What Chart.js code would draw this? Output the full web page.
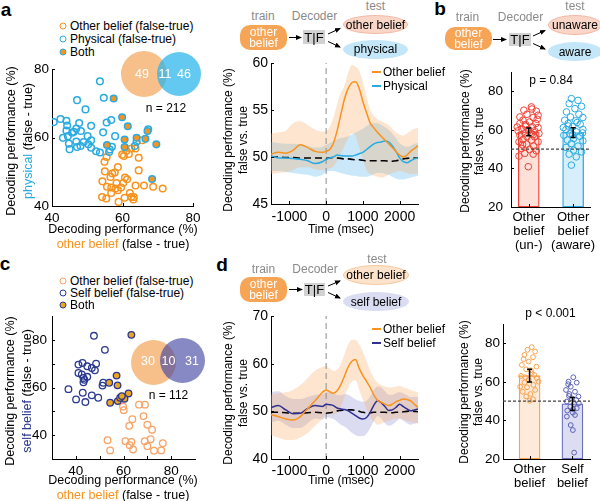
<!DOCTYPE html>
<html>
<head>
<meta charset="utf-8">
<script src="https://cdn.jsdelivr.net/npm/chart.js"></script>
<style>
  body { margin: 0; background: #fff; }
  #fig { position: relative; width: 600px; height: 501px; overflow: hidden; font-family: Arial, "Liberation Sans", sans-serif; color: #000; }
  #fig canvas { position: absolute; }
  .t { position: absolute; white-space: nowrap; transform: translate(-50%, -50%); font-size: 12px; line-height: 1; }
  .l { position: absolute; white-space: nowrap; transform: translate(0, -50%); font-size: 12px; line-height: 1; }
  .lab { font-weight: bold; font-size: 19px; }
  .vt { position: absolute; white-space: nowrap; transform: translate(-50%, -50%) rotate(-90deg); font-size: 12px; text-align: center; }
  .g { color: #8a8a8a; }
  .pill { position: absolute; background: #f6a455; color: #fff; border-radius: 10px; font-size: 12px; line-height: 11px; text-align: center; display: flex; align-items: center; justify-content: center; }
  .tf { position: absolute; background: #d2d2d2; font-size: 13px; display: flex; align-items: center; justify-content: center; }
  .ell { position: absolute; border-radius: 50%; font-size: 12px; display: flex; align-items: center; justify-content: center; box-sizing: border-box; }
  .dot { position: absolute; width: 5px; height: 5px; border-radius: 50%; border: 1.5px solid; transform: translate(-50%, -50%); }
  .venn { position: absolute; border-radius: 50%; }
  .vn { position: absolute; transform: translate(-50%, -50%); color: #fff; font-size: 12.5px; }
  .seg { position: absolute; height: 2px; width: 9px; transform: translate(0, -50%); }
</style>
</head>
<body>
<div id="fig">
  <!-- panel letters -->
  <div class="t lab" style="left:6px;top:9px">a</div>
  <div class="t lab" style="left:440px;top:8px">b</div>
  <div class="t lab" style="left:5px;top:263px">c</div>
  <div class="t lab" style="left:222px;top:264px">d</div>

  <!-- a: scatter legend, venn -->
  <span class="dot" style="left:63px;top:25.7px;border-color:#f7931e"></span>
  <div class="l" style="left:70px;top:25.7px">Other belief (false-true)</div>
  <span class="dot" style="left:63px;top:39px;border-color:#29abe2"></span>
  <div class="l" style="left:70px;top:39px">Physical (false-true)</div>
  <span class="dot" style="left:63px;top:51.7px;border-color:#29abe2;background:#f7931e"></span>
  <div class="l" style="left:70px;top:51.7px">Both</div>
  <div class="venn" style="left:121px;top:51px;width:46px;height:46px;background:rgba(242,150,60,0.6)"></div>
  <div class="venn" style="left:157px;top:52px;width:44px;height:44px;background:rgba(40,180,235,0.72)"></div>
  <div class="vn" style="left:142px;top:74px">49</div>
  <div class="vn" style="left:165px;top:74px">11</div>
  <div class="vn" style="left:184px;top:74px">46</div>
  <div class="t" style="left:166px;top:108px">n = 212</div>
  <div class="vt" style="left:20px;top:141px;line-height:17px;font-size:12.5px">Decoding performance (%)<br><span style="color:#29abe2">physical</span> (false - true)</div>
  <div class="t" style="left:123px;top:229px;font-size:12.5px">Decoding performance (%)</div>
  <div class="t" style="left:123px;top:244px;font-size:12.5px"><span style="color:#f7931e">other belief</span> (false - true)</div>

  <!-- a: decoder diagram -->
  <div class="t g" style="left:263px;top:16px">train</div>
  <div class="t g" style="left:314.5px;top:16px">Decoder</div>
  <div class="t g" style="left:375.5px;top:6px">test</div>
  <div class="pill" style="left:240px;top:25px;width:47px;height:25px">other<br>belief</div>
  <div class="tf" style="left:303px;top:30px;width:22px;height:14px">T|F</div>
  <div class="ell" style="left:343px;top:15px;width:65px;height:19px;background:#fad6c9;border:1px solid #f3b9a6">other belief</div>
  <div class="ell" style="left:343px;top:39.5px;width:65px;height:19px;background:#c3e6f8">physical</div>
  <div class="seg" style="left:372px;top:72px;background:#f7931e"></div>
  <div class="l" style="left:383px;top:72px">Other belief</div>
  <div class="seg" style="left:372px;top:85.5px;background:#29abe2"></div>
  <div class="l" style="left:383px;top:85.5px">Physical</div>
  <div class="vt" style="left:235.5px;top:140px;line-height:15px">Decoding performance (%)<br>false vs. true</div>
  <div class="t" style="left:341px;top:229px">Time (msec)</div>

  <!-- b: decoder diagram -->
  <div class="t g" style="left:467.5px;top:17px">train</div>
  <div class="t g" style="left:520.5px;top:17px">Decoder</div>
  <div class="t g" style="left:575px;top:6px">test</div>
  <div class="pill" style="left:445px;top:27px;width:47px;height:23px">other<br>belief</div>
  <div class="tf" style="left:509px;top:33px;width:22px;height:13px">T|F</div>
  <div class="ell" style="left:548px;top:15px;width:54px;height:20px;background:#fad6c9;border:1px solid #f3b9a6">unaware</div>
  <div class="ell" style="left:548px;top:42px;width:54px;height:19px;background:#c3e6f8">aware</div>
  <div class="t" style="left:551px;top:80px">p = 0.84</div>
  <div class="vt" style="left:471.5px;top:141px;line-height:14px">Decoding performance (%)<br>false vs. true</div>

  <!-- c: scatter legend, venn -->
  <span class="dot" style="left:63px;top:280.7px;border-color:#f9a266"></span>
  <div class="l" style="left:70px;top:280.7px">Other belief (false-true)</div>
  <span class="dot" style="left:63px;top:292.7px;border-color:#2b3990"></span>
  <div class="l" style="left:70px;top:292.7px">Self belief (false-true)</div>
  <span class="dot" style="left:63px;top:305px;border-color:#2b3990;background:#eda51e"></span>
  <div class="l" style="left:70px;top:305px">Both</div>
  <div class="venn" style="left:131px;top:339.5px;width:45px;height:45px;background:rgba(242,150,60,0.6)"></div>
  <div class="venn" style="left:159.5px;top:337.5px;width:45px;height:45px;background:rgba(60,65,160,0.62)"></div>
  <div class="vn" style="left:148px;top:361px">30</div>
  <div class="vn" style="left:168.5px;top:361px">10</div>
  <div class="vn" style="left:192px;top:361px">31</div>
  <div class="t" style="left:168.5px;top:395px">n = 112</div>
  <div class="vt" style="left:19px;top:391px;line-height:17px;font-size:12.5px">Decoding performance (%)<br><span style="color:#2b3990">self belief</span> (false - true)</div>
  <div class="t" style="left:123px;top:480px;font-size:12.5px">Decoding performance (%)</div>
  <div class="t" style="left:123px;top:494.5px;font-size:12.5px"><span style="color:#f7931e">other belief</span> (false - true)</div>

  <!-- d: decoder diagram -->
  <div class="t g" style="left:263.5px;top:268.5px">train</div>
  <div class="t g" style="left:315px;top:268.5px">Decoder</div>
  <div class="t g" style="left:377px;top:258.5px">test</div>
  <div class="pill" style="left:240px;top:277px;width:47px;height:25px">other<br>belief</div>
  <div class="tf" style="left:304px;top:282.5px;width:21px;height:13.5px">T|F</div>
  <div class="ell" style="left:343px;top:265px;width:66px;height:20px;background:#fde3cb;border:1px solid #f6c9a0">other belief</div>
  <div class="ell" style="left:343px;top:292px;width:66px;height:19px;background:#dadcf1">self belief</div>
  <div class="seg" style="left:372px;top:329px;background:#f7931e"></div>
  <div class="l" style="left:383px;top:329px">Other belief</div>
  <div class="seg" style="left:372px;top:342.5px;background:#2e3192"></div>
  <div class="l" style="left:383px;top:342.5px">Self belief</div>
  <div class="vt" style="left:235.5px;top:393px;line-height:15px">Decoding performance (%)<br>false vs. true</div>
  <div class="t" style="left:341px;top:480px">Time (msec)</div>

  <div class="t" style="left:550.5px;top:313px">p &lt; 0.001</div>
  <div class="vt" style="left:471px;top:392px;line-height:14px">Decoding performance (%)<br>false vs. true</div>

  <svg width="600" height="501" style="position:absolute;left:0;top:0;pointer-events:none">
    <defs>
      <marker id="ah" markerWidth="6" markerHeight="6" refX="5" refY="3" orient="auto">
        <path d="M0,0.5 L6,3 L0,5.5 z" fill="#000"></path>
      </marker>
    </defs>
    <g stroke="#000" stroke-width="1" marker-end="url(#ah)">
      <line x1="289" y1="37.5" x2="301" y2="37.5"></line>
      <line x1="328" y1="34" x2="340" y2="28.5"></line>
      <line x1="328" y1="41.5" x2="340" y2="47"></line>
      <line x1="493" y1="39.5" x2="506" y2="39.5"></line>
      <line x1="533" y1="36" x2="545" y2="30.5"></line>
      <line x1="533" y1="43.5" x2="545" y2="49"></line>
      <line x1="289" y1="289.5" x2="302" y2="289.5"></line>
      <line x1="328" y1="286" x2="340" y2="281"></line>
      <line x1="328" y1="292.5" x2="340" y2="298"></line>
    </g>
  </svg>
</div>

<script>
'use strict';

// ---- panel a scatter: decoding performance (%), other belief vs physical
const aOtherX = [55.5, 54.9, 58.7, 55.0, 57.1, 54.3, 56.6, 60.7, 60.2, 58.3, 55.6, 56.8, 58.0, 58.7, 59.6, 56.8, 54.2, 58.9, 60.6, 62.1, 62.5, 63.1, 63.2, 63.7, 66.1, 68.7, 71.4, 64.6, 64.6, 63.7, 62.5, 61.1, 59.9, 65.6, 61.8, 60.4, 57.8, 61.3, 55.4];
const aOtherY = [54.3, 52.9, 51.4, 50.1, 49.5, 47.2, 48.5, 48.3, 46.7, 46.7, 45.6, 45.4, 45.1, 44.6, 45.4, 43.8, 42.6, 41.2, 42.4, 43.8, 42.6, 41.9, 42.6, 46.0, 46.0, 45.6, 45.1, 50.4, 54.1, 56.8, 56.8, 56.1, 55.0, 59.2, 55.2, 54.6, 49.8, 47.8, 42.2];
const aPhysX = [53.6, 54.7, 47.1, 49.5, 40.5, 42.4, 44.1, 44.3, 47.7, 51.1, 55.5, 56.8, 44.1, 45.7, 46.9, 48.2, 43.1, 44.5, 50.1, 51.1, 46.9, 49.0, 48.1, 45.0, 47.1, 51.1, 53.6, 54.5, 56.4, 57.0, 57.9, 56.2, 64.0, 67.3, 63.5, 46.2, 50.3, 44.8, 52.5];
const aPhysY = [76.4, 71.6, 70.9, 68.2, 64.5, 65.4, 64.9, 63.5, 64.2, 63.4, 64.4, 65.1, 62.0, 61.4, 62.6, 61.9, 59.9, 60.4, 60.4, 59.2, 58.8, 58.7, 57.5, 56.6, 57.2, 57.0, 55.6, 61.5, 56.5, 57.3, 60.4, 55.8, 58.8, 62.4, 57.5, 61.7, 58.0, 58.2, 56.0];
const aBothX = [57.5, 59.9, 61.5, 55.6, 60.6, 60.6, 64.0, 66.5, 67.1, 69.6, 68.4];
const aBothY = [71.4, 65.9, 63.3, 57.8, 57.2, 59.4, 59.9, 59.6, 61.9, 58.0, 47.9];
const aTicks = [40, 60, 80];

// ---- panel c scatter: other belief vs self belief
const cOtherX = [59.8, 60.1, 66.5, 69.0, 68.4, 63.7, 62.4, 70.0, 72.0, 53.3, 60.8, 63.3, 68.9, 71.4, 76.5, 75.8, 54.4, 62.6, 64.0, 70.0, 72.8];
const cOtherY = [52.0, 50.5, 52.8, 52.8, 48.0, 46.7, 43.9, 44.4, 42.3, 37.9, 37.5, 37.2, 37.5, 38.3, 36.6, 33.6, 33.6, 35.8, 34.0, 35.4, 33.5];
const cSelfX = [47.6, 52.2, 41.1, 42.8, 44.8, 46.7, 48.5, 48.0, 41.1, 43.2, 44.8, 43.2, 51.5, 51.2, 36.9, 42.9, 46.7, 49.4, 40.1, 44.0, 43.6, 42.5];
const cSelfY = [81.7, 75.8, 69.6, 70.3, 68.9, 68.2, 70.0, 67.2, 66.1, 64.0, 64.5, 62.2, 62.0, 60.8, 59.3, 57.8, 56.7, 55.7, 55.0, 53.9, 63.2, 65.5];
const cBothX = [63.3, 57.1, 54.0, 57.5, 62.1, 60.4, 54.4, 57.6, 58.6, 59.3];
const cBothY = [82.1, 65.0, 62.0, 60.9, 57.5, 55.3, 53.6, 54.3, 55.7, 56.4];
const cTicks = [40, 50, 60, 70, 80];
const cTickLabels = [40, 60, 80];

// ---- time courses (msec) for panels a and d
const times = [-1500, -1300, -1100, -900, -700, -500, -300, -100, 0, 100, 200, 300, 400, 500, 600, 700, 800, 900, 1000, 1100, 1200, 1300, 1400, 1500, 1600, 1700, 1800, 1900, 2000, 2100, 2200, 2300, 2400, 2500];
const timeTicks = [-1000, 0, 1000, 2000];

const aOtherLine = [50.3, 50.5, 50.4, 50.7, 51.3, 51.0, 50.6, 50.5, 50.6, 50.8, 51.5, 52.8, 54.5, 56.2, 57.3, 57.9, 58.0, 57.3, 55.9, 54.7, 53.6, 53.1, 52.6, 52.2, 51.8, 51.4, 51.0, 50.6, 50.2, 50.0, 50.2, 50.6, 50.9, 51.2];
const aOtherUp = [52.5, 52.6, 52.8, 53.6, 53.8, 53.4, 52.9, 52.7, 52.8, 53.2, 54.2, 55.6, 56.8, 57.6, 59.0, 59.8, 59.6, 59.2, 58.0, 56.4, 55.0, 54.4, 54.0, 53.8, 53.6, 53.4, 53.0, 52.6, 52.4, 52.3, 52.5, 52.8, 53.0, 53.1];
const aOtherLo = [48.2, 48.3, 48.4, 48.6, 48.9, 48.9, 48.7, 48.6, 48.7, 48.8, 49.0, 49.6, 50.4, 51.2, 52.0, 52.5, 52.3, 51.0, 49.8, 48.6, 48.2, 48.0, 47.9, 47.8, 47.9, 48.1, 48.3, 48.4, 48.5, 48.4, 48.3, 48.2, 48.2, 48.2];
const aPhysLine = [50.1, 49.9, 49.9, 49.85, 49.75, 49.6, 49.3, 49.5, 49.75, 49.9, 50.0, 50.2, 50.15, 50.1, 50.1, 50.1, 50.2, 50.35, 50.5, 50.8, 51.1, 51.4, 51.55, 51.6, 51.7, 51.6, 51.2, 50.6, 49.9, 49.5, 49.4, 49.6, 49.8, 49.9];
const aPhysUp = [51.6, 51.5, 51.4, 51.4, 51.3, 51.2, 51.0, 51.1, 51.3, 51.5, 51.7, 51.9, 52.0, 52.1, 52.2, 52.4, 52.6, 52.8, 53.0, 53.3, 53.5, 53.6, 53.6, 53.4, 53.2, 52.9, 52.5, 52.0, 51.5, 51.2, 51.1, 51.2, 51.4, 51.5];
const aPhysLo = [48.5, 48.5, 48.4, 48.3, 48.2, 48.1, 47.9, 48.1, 48.4, 48.5, 48.5, 48.4, 48.3, 48.2, 48.1, 48.0, 48.0, 47.9, 47.9, 47.9, 48.0, 48.2, 48.3, 48.3, 48.2, 48.1, 47.9, 47.7, 47.6, 47.6, 47.7, 47.8, 47.9, 48.0];
const aChance = [50.0, 50.0, 49.95, 49.95, 49.9, 49.9, 49.9, 49.9, 49.85, 49.9, 49.95, 49.9, 49.85, 49.8, 49.8, 49.75, 49.7, 49.7, 49.65, 49.6, 49.6, 49.6, 49.6, 49.6, 49.6, 49.55, 49.55, 49.6, 49.7, 49.8, 49.85, 49.9, 49.9, 49.9];
const aLineTicks = [45, 50, 55, 60];

const dOtherLine = [49.3, 48.9, 48.4, 48.2, 48.9, 50.6, 52.2, 54.0, 54.5, 54.1, 53.8, 54.3, 55.6, 57.4, 59.3, 60.5, 60.9, 59.0, 57.5, 56.3, 55.0, 53.4, 52.3, 51.9, 51.5, 51.2, 51.5, 52.0, 52.3, 52.6, 52.5, 52.2, 51.5, 50.8];
const dOtherUp = [53.5, 53.8, 54.0, 54.5, 55.5, 57.0, 58.5, 59.3, 59.5, 59.0, 58.5, 58.8, 60.0, 62.0, 64.0, 65.0, 65.0, 64.0, 62.5, 60.5, 58.5, 57.0, 56.0, 55.5, 55.2, 55.0, 55.0, 55.2, 55.3, 55.0, 54.8, 54.5, 54.2, 54.0];
const dOtherLo = [45.0, 44.5, 44.0, 44.0, 44.5, 45.5, 47.0, 48.5, 49.5, 49.5, 49.3, 49.8, 51.0, 53.0, 55.0, 56.2, 56.5, 54.5, 52.5, 50.5, 48.8, 47.8, 47.2, 47.4, 47.8, 48.0, 48.3, 48.5, 48.5, 48.3, 48.0, 47.8, 47.6, 47.5];
const dSelfLine = [50.8, 51.2, 50.3, 49.5, 49.6, 50.6, 51.2, 51.0, 51.5, 51.4, 51.2, 50.7, 50.5, 50.4, 50.1, 49.6, 49.1, 48.6, 48.4, 48.7, 49.8, 51.3, 52.2, 51.8, 51.0, 50.2, 50.3, 50.8, 51.5, 51.0, 50.5, 50.1, 50.3, 50.5];
const dSelfUp = [54.0, 54.2, 53.2, 52.6, 52.6, 53.0, 53.5, 53.6, 54.0, 54.0, 53.8, 53.5, 53.4, 53.6, 53.5, 53.0, 52.5, 52.2, 52.0, 52.2, 53.2, 54.5, 55.2, 55.0, 54.2, 53.5, 53.5, 53.8, 54.0, 53.8, 53.4, 53.0, 53.0, 53.0];
const dSelfLo = [47.6, 48.0, 47.2, 46.5, 46.5, 47.5, 48.5, 48.3, 48.8, 48.6, 48.4, 47.8, 47.2, 46.8, 46.2, 45.5, 45.0, 44.8, 44.8, 45.3, 46.5, 48.0, 49.0, 48.5, 47.5, 47.0, 47.2, 47.8, 48.5, 48.0, 47.5, 47.2, 47.4, 47.6];
const dChance = [49.8, 49.8, 49.7, 49.6, 49.6, 49.7, 49.8, 49.7, 49.6, 49.7, 49.9, 50.1, 50.2, 50.3, 50.3, 50.3, 50.2, 50.0, 49.8, 49.7, 49.7, 49.8, 49.8, 49.8, 49.8, 49.7, 49.7, 49.8, 49.8, 49.9, 50.0, 50.1, 50.0, 49.9];
const dLineTicks = [40, 50, 60, 70];

// ---- bar panels: means, error, individual units (value + horizontal jitter)
const barTicks = [20, 40, 60, 80];
const chanceLevel = 50;
const bLabels = [['Other', 'belief', '(un-)'], ['Other', 'belief', '(aware)']];
const bMeans = [59.0, 58.6];
const bErrors = [2.0, 2.5];
const bUnVals = [71.9, 70.2, 69.7, 68.1, 66.7, 66.4, 67.6, 65.0, 64.1, 63.3, 63.3, 61.9, 61.6, 61.2, 60.7, 60.2, 59.5, 59.5, 58.4, 58.1, 58.1, 57.2, 56.4, 56.4, 55.0, 54.7, 53.8, 53.8, 52.6, 51.6, 50.3, 49.8, 49.1, 47.8, 47.4, 46.4, 40.9, 65.5, 62.8, 57.5, 61.5, 70.8, 52.3];
const bUnOff = [0.06, -0.11, 0.17, -0.04, -0.20, 0.10, 0.21, -0.13, 0.02, -0.20, 0.16, -0.07, 0.08, 0.21, -0.16, -0.01, -0.24, 0.13, -0.09, 0.06, 0.23, -0.20, -0.04, 0.13, -0.13, 0.06, -0.22, 0.21, -0.05, 0.11, -0.16, 0.02, 0.17, -0.09, 0.10, -0.22, -0.01, 0.19, -0.07, 0.10, -0.26, 0.07, -0.14];
const bAwVals = [76.2, 75.3, 73.6, 72.2, 71.0, 69.3, 68.1, 66.7, 66.4, 65.0, 64.7, 63.3, 62.9, 61.6, 60.2, 60.2, 59.0, 58.1, 57.2, 56.7, 55.5, 54.7, 54.3, 52.9, 51.6, 50.9, 49.5, 48.6, 47.4, 46.0, 41.7, 62.0, 63.8, 57.5, 61.2, 58.4];
const bAwOff = [-0.04, 0.11, -0.09, 0.19, 0.04, -0.15, 0.13, -0.06, 0.22, -0.19, 0.06, -0.11, 0.16, -0.01, -0.16, 0.22, 0.07, -0.07, -0.21, 0.15, 0.01, -0.13, 0.22, -0.04, 0.11, -0.16, 0.01, 0.19, -0.09, 0.07, -0.04, -0.11, 0.09, -0.01, -0.22, 0.21];

const dLabels = [['Other', 'belief'], ['Self', 'belief']];
const dMeans = [63.2, 48.6];
const dErrors = [3.3, 3.3];
const dOtherVals = [78.0, 76.6, 75.7, 74.0, 72.8, 70.5, 68.8, 67.9, 66.5, 64.5, 63.1, 61.9, 61.0, 59.6, 58.4, 57.2, 55.8, 54.9, 53.7, 52.4, 51.0, 50.2, 57.5, 60.1, 66.0, 62.4, 63.6, 71.8];
const dOtherOff = [0.05, -0.05, 0.13, -0.12, 0.08, -0.02, -0.18, 0.16, -0.08, 0.05, -0.20, 0.17, -0.02, -0.12, 0.09, -0.06, 0.13, -0.16, 0.02, -0.08, 0.08, 0.00, -0.22, 0.21, 0.03, -0.10, 0.11, -0.14];
const dSelfVals = [62.4, 60.1, 59.6, 57.5, 55.8, 54.9, 53.7, 52.4, 51.5, 49.8, 48.5, 47.2, 46.3, 45.1, 44.0, 42.8, 37.6, 35.0, 23.3, 42.0, 48.9, 52.7, 50.6, 58.8, 45.8];
const dSelfOff = [0.02, -0.09, 0.10, -0.04, -0.15, 0.06, -0.07, 0.14, -0.02, -0.13, 0.04, -0.05, 0.10, -0.12, 0.01, 0.06, -0.04, 0.01, 0.04, -0.13, 0.15, -0.08, 0.09, -0.10, 0.02];

// ---------------------------------------------------------------------------

Chart.defaults.font.family = 'Arial, "Liberation Sans", sans-serif';
Chart.defaults.color = '#000';

const AXIS_W = 50;
const PAD = 10;

function toXY(xs, ys) {
  return xs.map((x, i) => ({x: x, y: ys[i]}));
}

// canvas sized so that the chart area lands exactly on left/top/right/bottom
function placeCanvas(left, top, right, bottom, xH) {
  let c = document.createElement('canvas');
  c.width = right - left + AXIS_W + PAD;
  c.height = bottom - top + PAD + xH;
  c.style.left = (left - AXIS_W) + 'px';
  c.style.top = (top - PAD) + 'px';
  let fig = document.getElementById('fig');
  fig.insertBefore(c, fig.firstChild);
  return c;
}

function axis(min, max, tickVals, labelFn, vertical, size, pad, fontSize, lineHeight) {
  return {
    type: 'linear',
    min: min,
    max: max,
    offset: false,
    afterBuildTicks: s => { s.ticks = tickVals.map(v => ({value: v})); },
    afterFit: s => {
      if (vertical) { s.width = size; } else { s.height = size; }
      s.paddingLeft = 0; s.paddingRight = 0; s.paddingTop = 0; s.paddingBottom = 0;
    },
    grid: {display: false, drawTicks: false, offset: false},
    border: {display: true, color: '#000', width: 1},
    ticks: {
      color: '#000', padding: pad, autoSkip: false, maxRotation: 0,
      font: {size: fontSize, lineHeight: lineHeight || 1.2},
      callback: labelFn,
    },
  };
}

// small ticks pointing into the plot, like the original axes
const inwardTicks = {
  id: 'inwardTicks',
  afterDraw(chart) {
    let ctx = chart.ctx;
    let area = chart.chartArea;
    ctx.save();
    ctx.strokeStyle = '#000';
    ctx.lineWidth = 1;
    for (const scale of Object.values(chart.scales)) {
      for (let i = 0; i < scale.ticks.length; i++) {
        let p = Math.round(scale.getPixelForTick(i)) + 0.5;
        ctx.beginPath();
        if (scale.isHorizontal()) {
          ctx.moveTo(p, area.bottom); ctx.lineTo(p, area.bottom - 3);
        } else {
          ctx.moveTo(area.left, p); ctx.lineTo(area.left + 3, p);
        }
        ctx.stroke();
      }
    }
    ctx.restore();
  },
};

const errorBars = {
  id: 'errorBars',
  afterDatasetsDraw(chart, args, opts) {
    let ctx = chart.ctx;
    let xs = chart.scales.x;
    let ys = chart.scales.y;
    ctx.save();
    ctx.strokeStyle = '#000';
    ctx.lineWidth = 1.5;
    opts.means.forEach((m, i) => {
      let px = xs.getPixelForValue(opts.positions[i]);
      let top = ys.getPixelForValue(m + opts.errors[i]);
      let bot = ys.getPixelForValue(m - opts.errors[i]);
      ctx.beginPath();
      ctx.moveTo(px, top); ctx.lineTo(px, bot);
      ctx.moveTo(px - 2.5, top); ctx.lineTo(px + 2.5, top);
      ctx.moveTo(px - 2.5, bot); ctx.lineTo(px + 2.5, bot);
      ctx.stroke();
    });
    ctx.restore();
  },
};

function baseOptions() {
  return {
    responsive: false,
    animation: false,
    events: [],
    layout: {padding: {left: 0, top: PAD, right: PAD, bottom: 0}},
    plugins: {legend: {display: false}, tooltip: {enabled: false}},
  };
}

function pointSet(xs, ys, edge, fill, r, bw) {
  return {
    type: 'scatter',
    data: toXY(xs, ys),
    pointRadius: r,
    borderColor: edge,
    backgroundColor: fill,
    pointBorderWidth: bw,
    borderWidth: bw,
  };
}

function scatterPanel(area, xMin, xMax, yMin, yMax, ticks, labelFn, yPad, xPad, datasets) {
  let canvas = placeCanvas(area[0], area[1], area[2], area[3], 30);
  let options = baseOptions();
  options.scales = {
    x: axis(xMin, xMax, ticks, labelFn, false, 30, xPad, 13.5),
    y: axis(yMin, yMax, ticks, labelFn, true, AXIS_W, yPad, 13.5),
  };
  return new Chart(canvas, {type: 'scatter', data: {datasets: datasets}, options: options, plugins: [inwardTicks]});
}

function lineSet(ys, color, width, dash) {
  return {
    type: 'line', data: toXY(times, ys), borderColor: color, borderWidth: width,
    borderDash: dash || [], pointRadius: 0, fill: false, cubicInterpolationMode: 'monotone',
  };
}

function bandSet(ys, color, upper) {
  return {
    type: 'line', data: toXY(times, ys), borderWidth: 0, pointRadius: 0,
    backgroundColor: color, fill: upper ? '+1' : false, cubicInterpolationMode: 'monotone',
  };
}

function timePanel(area, yMin, yMax, yTicks, xPad, yPad, series) {
  let canvas = placeCanvas(area[0], area[1], area[2], area[3], 30);
  let options = baseOptions();
  options.scales = {
    x: axis(times[0], times[times.length - 1], timeTicks, v => String(v), false, 30, xPad, 14),
    y: axis(yMin, yMax, yTicks, v => String(v), true, AXIS_W, yPad, 14),
  };
  let datasets = [
    lineSet(series.first, series.firstColor, 1.5),
    lineSet(series.second, series.secondColor, 1.5),
    lineSet(series.chance, '#000', 1.6, [7, 4]),
    {type: 'line', data: [{x: 0, y: yMin}, {x: 0, y: yMax}], borderColor: '#8c8c8c', borderWidth: 1, borderDash: [6, 4], pointRadius: 0},
    bandSet(series.firstUp, series.firstBand, true),
    bandSet(series.firstLo, series.firstBand, false),
    bandSet(series.secondUp, series.secondBand, true),
    bandSet(series.secondLo, series.secondBand, false),
  ];
  return new Chart(canvas, {type: 'line', data: {datasets: datasets}, options: options, plugins: [inwardTicks]});
}

function barPanel(area, xMin, xMax, xH, labels, means, errors, groups, yPad, barFill, barEdge) {
  let canvas = placeCanvas(area[0], area[1], area[2], area[3], xH);
  let options = baseOptions();
  options.scales = {
    x: axis(xMin, xMax, [1, 2], (v, i) => labels[i], false, xH, 3, 13, 1.08),
    y: axis(20, 90, barTicks, v => String(v), true, AXIS_W, yPad, 13.5),
  };
  options.plugins.errorBars = {positions: [1, 2], means: means, errors: errors};
  let datasets = [
    {type: 'line', data: [{x: xMin, y: chanceLevel}, {x: xMax, y: chanceLevel}], borderColor: '#444', borderWidth: 1.2, borderDash: [3, 2], pointRadius: 0},
  ];
  groups.forEach(g => {
    datasets.push(pointSet(g.off.map(o => g.pos + o), g.vals, g.color, 'rgba(0,0,0,0)', g.r, 1));
  });
  datasets.push({
    type: 'bar', data: toXY([1, 2], means), base: 20, barThickness: 21,
    backgroundColor: barFill, borderColor: barEdge, borderWidth: 1.3, borderSkipped: false,
  });
  return new Chart(canvas, {type: 'bar', data: {datasets: datasets}, options: options, plugins: [errorBars, inwardTicks]});
}

// ---- draw the six panels
scatterPanel([52, 69, 193, 206], 40, 80, 40, 80, aTicks, v => String(v), 3, 4, [
  pointSet(aBothX, aBothY, '#29abe2', '#f7931e', 3.3, 1.5),
  pointSet(aPhysX, aPhysY, '#29abe2', 'rgba(0,0,0,0)', 3.3, 1.5),
  pointSet(aOtherX, aOtherY, '#f7931e', 'rgba(0,0,0,0)', 3.3, 1.5),
]);

scatterPanel([52, 316, 195, 459], 30, 90, 30, 90, cTicks, v => (cTickLabels.includes(v) ? String(v) : ''), 5, 4, [
  pointSet(cBothX, cBothY, '#2b3990', '#eda51e', 3.3, 1.3),
  pointSet(cSelfX, cSelfY, '#2b3990', 'rgba(0,0,0,0)', 3.3, 1.3),
  pointSet(cOtherX, cOtherY, '#f9a266', 'rgba(0,0,0,0)', 3.3, 1.3),
]);

timePanel([271, 63, 418, 204], 45, 60, aLineTicks, 5, 3, {
  first: aOtherLine, firstUp: aOtherUp, firstLo: aOtherLo, firstColor: '#f7931e', firstBand: 'rgba(250,170,100,0.3)',
  second: aPhysLine, secondUp: aPhysUp, secondLo: aPhysLo, secondColor: '#29abe2', secondBand: 'rgba(80,180,235,0.3)',
  chance: aChance,
});

timePanel([271, 316, 418, 459], 40, 70, dLineTicks, 4, 3, {
  first: dOtherLine, firstUp: dOtherUp, firstLo: dOtherLo, firstColor: '#f7931e', firstBand: 'rgba(250,170,100,0.3)',
  second: dSelfLine, secondUp: dSelfUp, secondLo: dSelfLo, secondColor: '#2e3192', secondBand: 'rgba(110,115,200,0.25)',
  chance: dChance,
});

barPanel([511, 72, 590, 207], 0.6, 2.38, 45, bLabels, bMeans, bErrors, [
  {pos: 1, off: bUnOff, vals: bUnVals, color: '#ef4136', r: 3.3},
  {pos: 2, off: bAwOff, vals: bAwVals, color: '#29abe2', r: 3.3},
], 8, ['#fde0d8', '#d7effa'], ['#ef4136', '#29abe2']);

barPanel([503, 324, 590, 459], 0.38, 2.41, 40, dLabels, dMeans, dErrors, [
  {pos: 1, off: dOtherOff, vals: dOtherVals, color: '#f9a24d', r: 2.4},
  {pos: 2, off: dSelfOff, vals: dSelfVals, color: '#5b62b5', r: 2.4},
], 3, ['#feead8', '#dcddf1'], ['#f9a24d', '#6a70c0']);
</script>
</body>
</html>
